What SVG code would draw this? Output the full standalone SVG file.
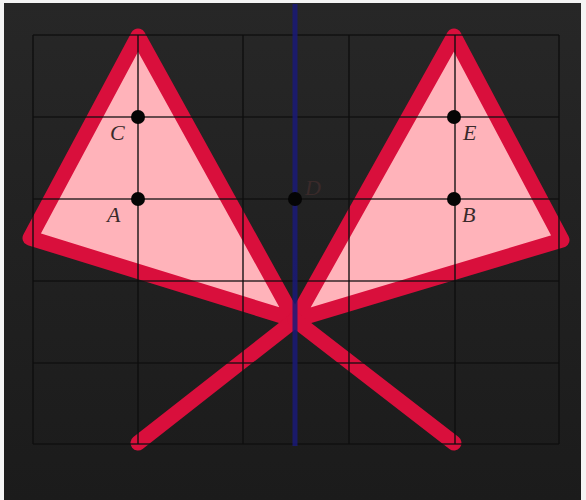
<svg xmlns="http://www.w3.org/2000/svg" width="586" height="500" viewBox="0 0 586 500">
  <defs>
    <linearGradient id="bg" x1="0" y1="0" x2="0" y2="1">
      <stop offset="0" stop-color="#272727"/>
      <stop offset="1" stop-color="#1b1b1b"/>
    </linearGradient>
  </defs>
  <style>
    .grid line { stroke: #0e0e0e; stroke-width: 1.6; stroke-opacity: 0.85; }
    .tri { fill: #ffb3ba; stroke: #d90f3c; stroke-width: 15; stroke-linejoin: round; }
    .seg { stroke: #d90f3c; stroke-width: 15; stroke-linecap: round; fill: none; }
    .pt { fill: #050505; }
    .lbl { font-family: "Liberation Serif", serif; font-style: italic; font-size: 22px; fill: #3a2a2a; }
  </style>
  <rect x="0" y="0" width="586" height="500" fill="#f4f4f4"/>
  <rect x="4" y="3" width="577" height="497" fill="url(#bg)"/>

  <g id="tri-left">
    <polygon class="tri" points="138,36 30,238 295,320"/>
  </g>
  <g id="tri-right">
    <polygon class="tri" points="454,36 562,240 295,320"/>
  </g>
  <g id="connectors">
    <line class="seg" x1="138" y1="443" x2="295" y2="320"/>
    <line class="seg" x1="454" y1="443" x2="295" y2="320"/>
  </g>

  <g class="grid" id="grid">
    <line x1="33" y1="35" x2="33" y2="444"/>
    <line x1="138" y1="35" x2="138" y2="444"/>
    <line x1="243" y1="35" x2="243" y2="444"/>
    <line x1="349" y1="35" x2="349" y2="444"/>
    <line x1="455" y1="35" x2="455" y2="444"/>
    <line x1="559" y1="35" x2="559" y2="444"/>
    <line x1="33" y1="35" x2="559" y2="35"/>
    <line x1="33" y1="117" x2="559" y2="117"/>
    <line x1="33" y1="199" x2="559" y2="199"/>
    <line x1="33" y1="281" x2="559" y2="281"/>
    <line x1="33" y1="363" x2="559" y2="363"/>
    <line x1="33" y1="444" x2="559" y2="444"/>
  </g>

  <g id="axis">
    <line x1="295" y1="4" x2="295" y2="446" stroke="#1a1a78" stroke-width="5" stroke-opacity="0.85"/>
  </g>

  <g id="C"><circle class="pt" cx="138" cy="117" r="7"/><text class="lbl" x="110" y="140">C</text></g>
  <g id="A"><circle class="pt" cx="138" cy="199" r="7"/><text class="lbl" x="107" y="222">A</text></g>
  <g id="D"><circle class="pt" cx="295" cy="199" r="7"/><text class="lbl" x="305" y="195">D</text></g>
  <g id="E"><circle class="pt" cx="454" cy="117" r="7"/><text class="lbl" x="463" y="140">E</text></g>
  <g id="B"><circle class="pt" cx="454" cy="199" r="7"/><text class="lbl" x="462" y="222">B</text></g>
</svg>
